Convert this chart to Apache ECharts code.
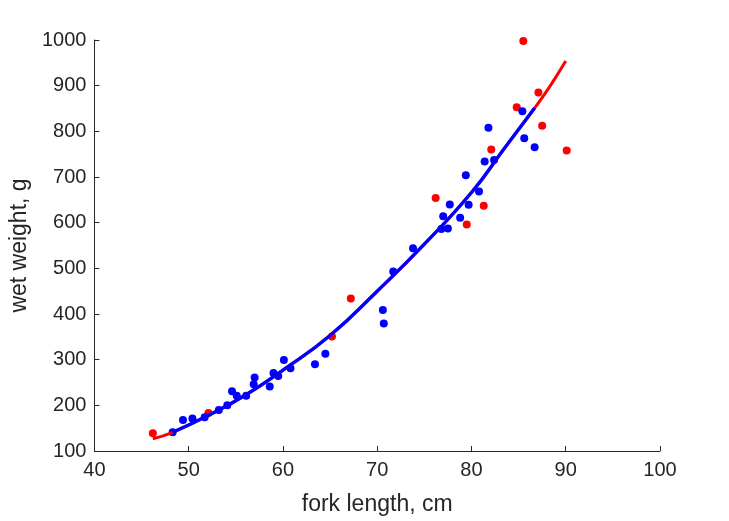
<!DOCTYPE html>
<html>
<head>
<meta charset="utf-8">
<script src="https://cdn.jsdelivr.net/npm/echarts@6/dist/echarts.min.js"></script>
<style>html,body{margin:0;padding:0;background:#fff}#c{width:729px;height:521px}</style>
</head>
<body>
<div id="c"></div>
<script>
// Blue group observations: [fork length cm, wet weight g]
const blueX = [48.3,49.4,50.4,51.7,53.2,54.1,54.6,55.1,56.1,56.9,57.0,58.6,59.0,59.5,60.1,60.8,63.4,64.5,70.6,70.7,71.7,73.8,77.0,76.8,77.5,77.7,78.8,79.4,79.7,80.8,81.4,81.8,82.4,85.4,85.6,86.7];
const blueY = [141,168,171,174,190,200,231,221,221,246,261,241,271,264,299,281,290,313,409,379,493,544,614,586,587,640,611,704,639,668,734,808,737,844,785,765];
// Red group observations
const redX = [46.2,52.1,65.2,67.2,76.2,79.5,81.3,82.1,84.8,85.5,87.1,87.5,90.1];
const redY = [139,183,351,434,654,596,637,760,853,998,885,812,758];
// Fitted curves
const blueFitX = [48.3,52,56,60,65,70,75,80,83.4,86.7];
const blueFitY = [141,177,222,277,353,450,553,666,760,851];
const redFitX = [46.2,48.3,52,56,60,65,70,75,80,83.4,86.7,88.3,90.0];
const redFitY = [127,141,177,222,277,353,450,553,666,760,851,898,954];
// Axis ticks
const xTicks = [40,50,60,70,80,90,100];
const yTicks = [100,200,300,400,500,600,700,800,900,1000];

const zip = (a,b) => a.map((v,i) => [v,b[i]]);
const font = "'Liberation Sans', Arial, Helvetica, sans-serif";
const axisCol = '#262626';

const chart = echarts.init(document.getElementById('c'), null, {renderer:'canvas'});
chart.setOption({
  animation: false,
  backgroundColor: '#ffffff',
  grid: {left: 94, right: 69, top: 40, bottom: 68},
  xAxis: {
    type: 'value',
    min: xTicks[0], max: xTicks[xTicks.length-1], interval: 10,
    name: 'fork length, cm', nameLocation: 'middle', nameGap: 42,
    nameTextStyle: {fontSize: 23, color: axisCol, fontFamily: font},
    axisLine: {show: true, lineStyle: {color: axisCol, width: 1}},
    axisTick: {show: true, inside: true, length: 5, lineStyle: {color: axisCol}},
    axisLabel: {fontSize: 20, color: axisCol, fontFamily: font, margin: 9, formatter: v => String(v)},
    splitLine: {show: false}
  },
  yAxis: {
    type: 'value',
    min: yTicks[0], max: yTicks[yTicks.length-1], interval: 100,
    name: 'wet weight, g', nameLocation: 'middle', nameGap: 55,
    nameTextStyle: {fontSize: 23, color: axisCol, fontFamily: font},
    axisLine: {show: true, lineStyle: {color: axisCol, width: 1}},
    axisTick: {show: true, inside: true, length: 5, lineStyle: {color: axisCol}},
    axisLabel: {fontSize: 20, color: axisCol, fontFamily: font, margin: 8, formatter: v => String(v)},
    splitLine: {show: false}
  },
  series: [
    {type: 'scatter', data: zip(redX, redY), symbolSize: 8, itemStyle: {color: '#ff0000', opacity: 1}},
    {type: 'scatter', data: zip(blueX, blueY), symbolSize: 8, itemStyle: {color: '#0000ff', opacity: 1}},
    {type: 'line', data: zip(redFitX, redFitY), smooth: true, showSymbol: false, lineStyle: {color: '#ff0000', width: 3}},
    {type: 'line', data: zip(blueFitX, blueFitY), smooth: true, showSymbol: false, lineStyle: {color: '#0000ff', width: 3.4}}
  ]
});
</script>
</body>
</html>
